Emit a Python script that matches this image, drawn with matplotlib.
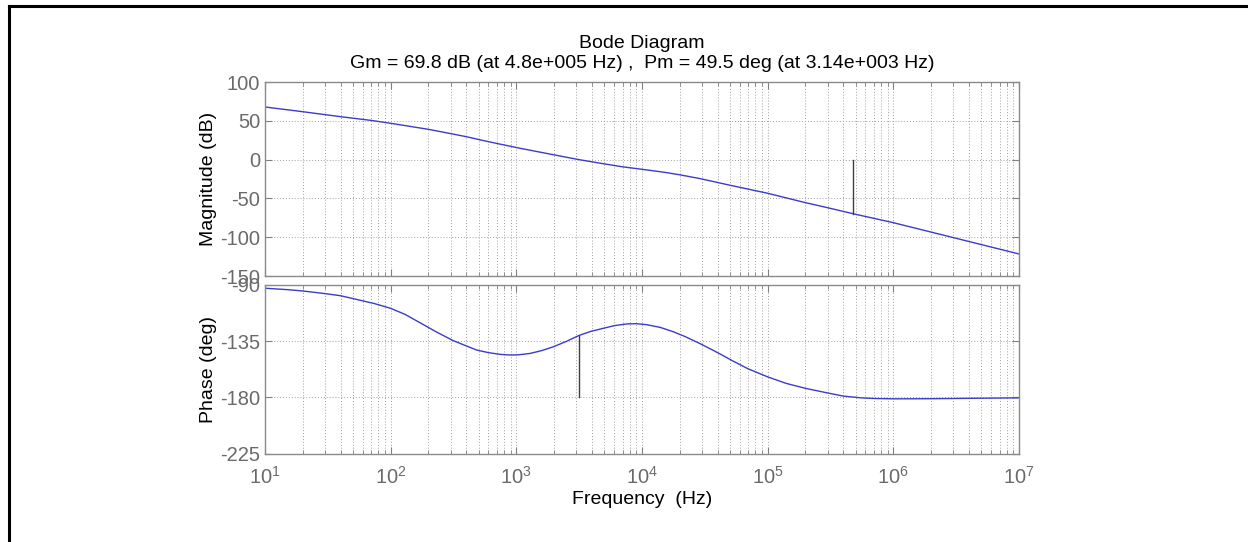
import matplotlib.pyplot as plt
from matplotlib.lines import Line2D
from matplotlib.ticker import LogLocator, FixedLocator, NullFormatter

plt.rcParams['font.family'] = ['Liberation Sans', 'DejaVu Sans']
plt.rcParams['axes.unicode_minus'] = False

# values
mag_freq = [10, 20, 40, 70, 100, 200, 300, 400, 520, 700, 1070, 1500, 2200,
            3140, 5000, 7000, 1e4, 1.5e4, 2e4, 2.9e4, 5e4, 1e5, 2e5, 3e5,
            4.8e5, 1e6, 1e7]
mag_db = [67.8, 61.7, 55.3, 50.5, 46.8, 39, 33.5, 29.5, 25.3, 20.8, 14.6, 10,
          4.8, 0, -5.5, -9.3, -12.5, -16.3, -19.6, -24.5, -33, -43.4, -55.5,
          -62, -69.8, -81.3, -121.6]

phase_freq = [10, 15, 20, 29, 40, 56, 75, 100, 130, 171, 230, 315, 400, 483,
              600, 750, 890, 1050, 1290, 1600, 1970, 2500, 3140, 3900, 4920,
              6000, 7550, 9000, 10900, 14000, 17700, 22000, 29000, 36000,
              41700, 52000, 7e4, 1e5, 1.4e5, 2e5, 3e5, 4e5, 5.5e5, 7e5, 1e6,
              2e6, 4e6, 1e7]
phase_deg = [-92.6, -93.7, -94.8, -96.7, -98.6, -102, -105, -108.7, -113.5,
             -120.2, -127.5, -134.6, -138.8, -142.1, -144.2, -145.6, -146.1,
             -145.9, -144.8, -142.5, -139.5, -135.2, -130.5, -127.2, -124.7,
             -122.6, -121.2, -121.0, -121.8, -124.0, -127.4, -131.3, -137,
             -141.8, -145.2, -150.5, -157.2, -163.6, -168.8, -172.8, -176.5,
             -179, -180.4, -180.9, -181.2, -181.1, -180.8, -180.4]

gm_db, gm_freq = 69.8, 4.8e5
pm_deg, pm_freq = 49.5, 3.14e3

mag_ticks = [100, 50, 0, -50, -100, -150]
phase_ticks = [-90, -135, -180, -225]

W, H = 1248, 542
fig = plt.figure(figsize=(W / 100, H / 100), dpi=100)

def px_axes(x0, y0, x1, y1):
    return fig.add_axes([x0 / W, 1 - y1 / H, (x1 - x0) / W, (y1 - y0) / H])

ax_m = px_axes(265, 82, 1019, 276)
ax_p = px_axes(265, 285, 1019, 453.5)

line_col = '#3b3bcc'
tick_col = '#6a6a6a'

for ax in (ax_m, ax_p):
    ax.set_xscale('log')
    ax.set_xlim(10, 1e7)
    ax.xaxis.set_major_locator(LogLocator(base=10, numticks=10))
    ax.xaxis.set_minor_locator(LogLocator(base=10, subs=range(2, 10), numticks=20))
    ax.xaxis.set_minor_formatter(NullFormatter())
    ax.grid(True, which='both', axis='x', ls=(0, (1, 2)), color='#a0a0a0', lw=0.7)
    ax.grid(True, which='major', axis='y', ls=(0, (1, 2)), color='#a0a0a0', lw=0.7)
    ax.tick_params(which='both', direction='in', top=True, right=True,
                   colors='#808080', labelcolor=tick_col, labelsize=14.5)
    ax.tick_params(which='major', length=5)
    ax.tick_params(which='minor', length=3)
    for s in ax.spines.values():
        s.set_color('#8a8a8a')
        s.set_linewidth(1)

ax_m.plot(mag_freq, mag_db, color=line_col, lw=1)
ax_m.plot([gm_freq, gm_freq], [0, -gm_db], color='#404040', lw=1)
ax_m.set_ylim(-150, 100)
ax_m.yaxis.set_major_locator(FixedLocator(mag_ticks))
ax_m.tick_params(axis='x', labelbottom=False)
ax_m.set_ylabel('Magnitude (dB)', fontsize=14)
ax_m.yaxis.set_label_coords(-0.064, 0.5)

ax_p.plot(phase_freq, phase_deg, color=line_col, lw=1)
ax_p.plot([pm_freq, pm_freq], [-180, -180 + pm_deg], color='#404040', lw=1)
ax_p.set_ylim(-225, -90)
ax_p.yaxis.set_major_locator(FixedLocator(phase_ticks))
ax_p.set_ylabel('Phase (deg)', fontsize=14)
ax_p.yaxis.set_label_coords(-0.064, 0.5)
ax_p.tick_params(axis='x', pad=9)

fig.text(642 / W, 1 - 43 / H, 'Bode Diagram', ha='center', va='center', fontsize=14)
fig.text(642 / W, 1 - 64 / H,
         'Gm = 69.8 dB (at 4.8e+005 Hz) ,  Pm = 49.5 deg (at 3.14e+003 Hz)',
         ha='center', va='center', fontsize=14)
fig.text(642 / W, 1 - 499 / H, 'Frequency  (Hz)', ha='center', va='center', fontsize=14)

# page frame, cut at right and bottom
fig.add_artist(Line2D([9 / W, 1], [1 - 5.5 / H, 1 - 5.5 / H], color='black', lw=2.2))
fig.add_artist(Line2D([9 / W, 9 / W], [0, 1 - 5.5 / H], color='black', lw=2.2))

fig.savefig('out.png', dpi=100)
